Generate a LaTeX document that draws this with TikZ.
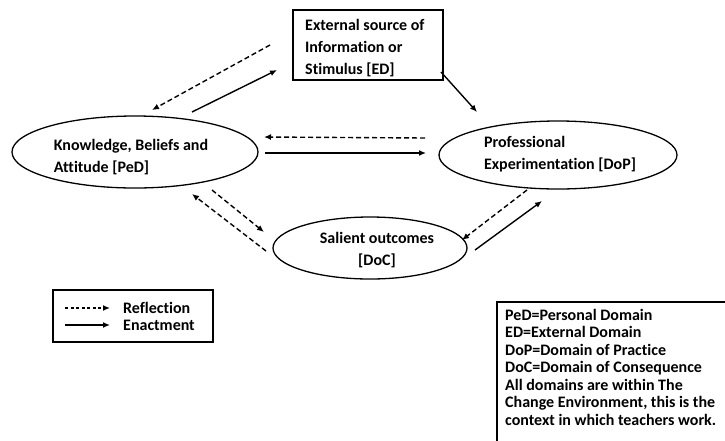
\documentclass[tikz,border=0pt]{standalone}
\usepackage{fontspec}
\setmainfont{Carlito}[Ligatures=NoCommon]
\usetikzlibrary{arrows.meta,shapes.geometric}
\begin{document}
\begin{tikzpicture}[x=1pt,y=-1pt,
  lbl/.style={font=\bfseries\fontsize{16}{22}\selectfont, align=left, inner sep=0pt},
  dom/.style={draw, ellipse, line width=1.3pt, inner sep=0pt},
  refl/.style={dashed, dash pattern=on 5pt off 3pt, line width=1.4pt, -{Latex[length=7pt,width=6pt]}},
  enact/.style={line width=1.4pt, -{Latex[length=7pt,width=6pt]}},
  boxed/.style={draw, line width=1.2pt, inner sep=0pt}]
\useasboundingbox (0,0) rectangle (725,440);
% top box
\node[boxed, minimum width=150, minimum height=70] (ext) at (368,45) {};
\node[lbl, anchor=west] (extt) at (305,48) {External source of\\Information or\\Stimulus [ED]};
% ellipses
\node[dom, minimum width=246, minimum height=72] (ped) at (135,152) {};
\node[lbl] (pedt) at (131,157) {Knowledge, Beliefs and\\Attitude [PeD]};
\node[dom, minimum width=238, minimum height=68] (dop) at (558,155) {};
\node[lbl] (dopt) at (560,154) {Professional\\Experimentation [DoP]};
\node[dom, minimum width=194, minimum height=62] (doc) at (370,248) {};
\node[lbl, align=center] (doct) at (377,250) {Salient outcomes\\{[DoC]}};
% arrow ends
\coordinate (a1s) at (270,45);  \coordinate (a1e) at (152,110);
\coordinate (a2s) at (192,112); \coordinate (a2e) at (277,70);
\coordinate (a3s) at (441,72);  \coordinate (a3e) at (477,112);
\coordinate (a4s) at (425,138); \coordinate (a4e) at (264,137);
\coordinate (a5s) at (265,153); \coordinate (a5e) at (426,153);
\coordinate (a6s) at (266,251); \coordinate (a6e) at (192,194);
\coordinate (a7s) at (212,190); \coordinate (a7e) at (264,232);
\coordinate (a8s) at (527,190); \coordinate (a8e) at (462,240);
\coordinate (a9s) at (475,250); \coordinate (a9e) at (542,201);
\draw[refl] (a1s) -- (a1e);
\draw[enact] (a2s) -- (a2e);
\draw[enact] (a3s) -- (a3e);
\draw[refl] (a4s) -- (a4e);
\draw[enact] (a5s) -- (a5e);
\draw[refl] (a6s) -- (a6e);
\draw[refl] (a7s) -- (a7e);
\draw[refl] (a8s) -- (a8e);
\draw[enact] (a9s) -- (a9e);
% legend
\node[boxed, minimum width=160, minimum height=52] (leg) at (133,316) {};
\coordinate (l1s) at (65,308); \coordinate (l1e) at (110,308);
\coordinate (l2s) at (65,325); \coordinate (l2e) at (110,325);
\draw[refl, dash pattern=on 3pt off 2.5pt] (l1s) -- (l1e);
\draw[enact] (l2s) -- (l2e);
\node[lbl, anchor=west] (l1t) at (123,308) {Reflection};
\node[lbl, anchor=west] (l2t) at (123,325) {Enactment};
% definitions
\draw[line width=1.2pt] (745,302) -| (497,460);
\node[lbl, anchor=north west, font=\bfseries\fontsize{16}{17.5}\selectfont] (defs) at (505,309)
 {PeD=Personal Domain\\ED=External Domain\\DoP=Domain of Practice\\DoC=Domain of Consequence\\All domains are within The\\Change Environment, this is the\\context in which teachers work.};
\end{tikzpicture}
\end{document}
